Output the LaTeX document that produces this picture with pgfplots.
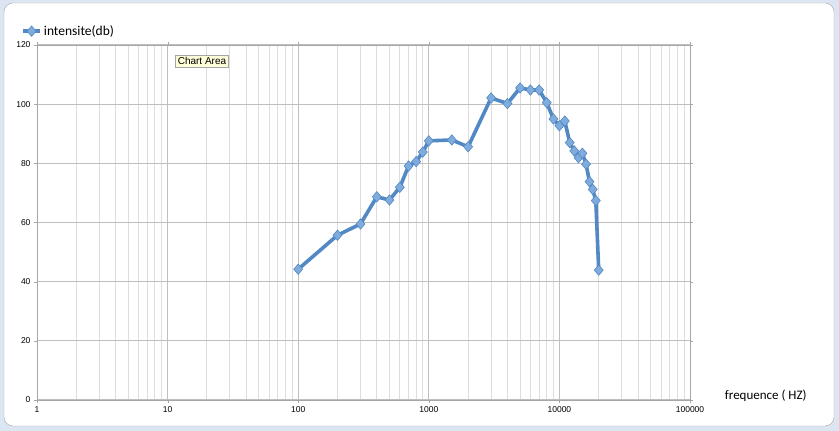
\documentclass[border=0pt]{standalone}
\usepackage{fontspec}
\setmainfont{Carlito}
\newfontfamily\tickfont{Liberation Sans}
\usepackage{pgfplots}
\pgfplotsset{compat=1.18}
\definecolor{serie}{HTML}{5289C4}
\definecolor{seriefill}{HTML}{80ABDD}
\definecolor{bgblue}{HTML}{DCE6F2}
\definecolor{frame}{HTML}{A6A6A6}
\definecolor{majgrid}{HTML}{BFBFBF}
\definecolor{mingrid}{HTML}{DDDDDD}
\begin{document}
\begin{tikzpicture}[x=1pt,y=1pt]
\fill[bgblue] (0,0) rectangle (839,431);
\draw[frame, fill=white, rounded corners=9pt] (4,5) rectangle (834,428);
\begin{axis}[
    at={(37pt,31pt)}, anchor=south west,
    scale only axis,
    width=653pt, height=355pt,
    xmode=log, log basis x=10,
    xmin=1, xmax=100000,
    ymin=0, ymax=120,
    xtick={1,10,100,1000,10000,100000},
    xticklabels={1,10,100,1000,10000,100000},
    minor xtick={2,3,4,5,6,7,8,9,20,30,40,50,60,70,80,90,
        200,300,400,500,600,700,800,900,2000,3000,4000,5000,6000,7000,8000,9000,
        20000,30000,40000,50000,60000,70000,80000,90000},
    ytick={0,20,40,60,80,100,120},
    grid=both,
    major grid style={majgrid, line width=1pt},
    minor grid style={mingrid, line width=1pt},
    axis line style={frame, line width=0.8pt},
    tick align=outside,
    major tick length=3pt,
    minor tick length=0pt,
    tick style={frame},
    tick label style={font=\tickfont\fontsize{8.5}{10}\selectfont},
    /pgf/number format/assume math mode=true,
    xlabel={frequence ( HZ)},
    xlabel style={at={(axis description cs:1.116,0.012)}, anchor=center, font=\fontsize{13}{15}\selectfont},
    legend style={at={(-0.029,1.039)}, anchor=west, draw=none, fill=none,
        font=\fontsize{13.5}{16}\selectfont},
    legend cell align=left,
]
\addplot[serie, line width=3.6pt, mark=diamond*, mark size=5.2pt,
    mark options={fill=seriefill, draw=serie, line width=0.6pt, xscale=1.15}] coordinates {
    (100,44.2) (200,55.7) (300,59.5) (400,68.7) (500,67.6) (600,71.9)
    (700,79.1) (800,80.6) (900,83.8) (1000,87.6) (1500,87.9) (2000,85.6)
    (3000,102.1) (4000,100.2) (5000,105.5) (6000,104.8) (7000,104.8)
    (8000,100.5) (9000,95.0) (10000,92.7) (11000,94.3) (12000,87.0)
    (13000,84.2) (14000,81.9) (15000,83.4) (16000,79.7) (17000,73.8)
    (18000,71.2) (19000,67.4) (20000,43.9)
};
\legend{intensite(db)}
\end{axis}
\node[fill=yellow!15, draw=frame, line width=0.4pt, inner sep=2.5pt,
    font=\tickfont\fontsize{10}{12}\selectfont] at (202,370) {Chart Area};
\end{tikzpicture}
\end{document}
